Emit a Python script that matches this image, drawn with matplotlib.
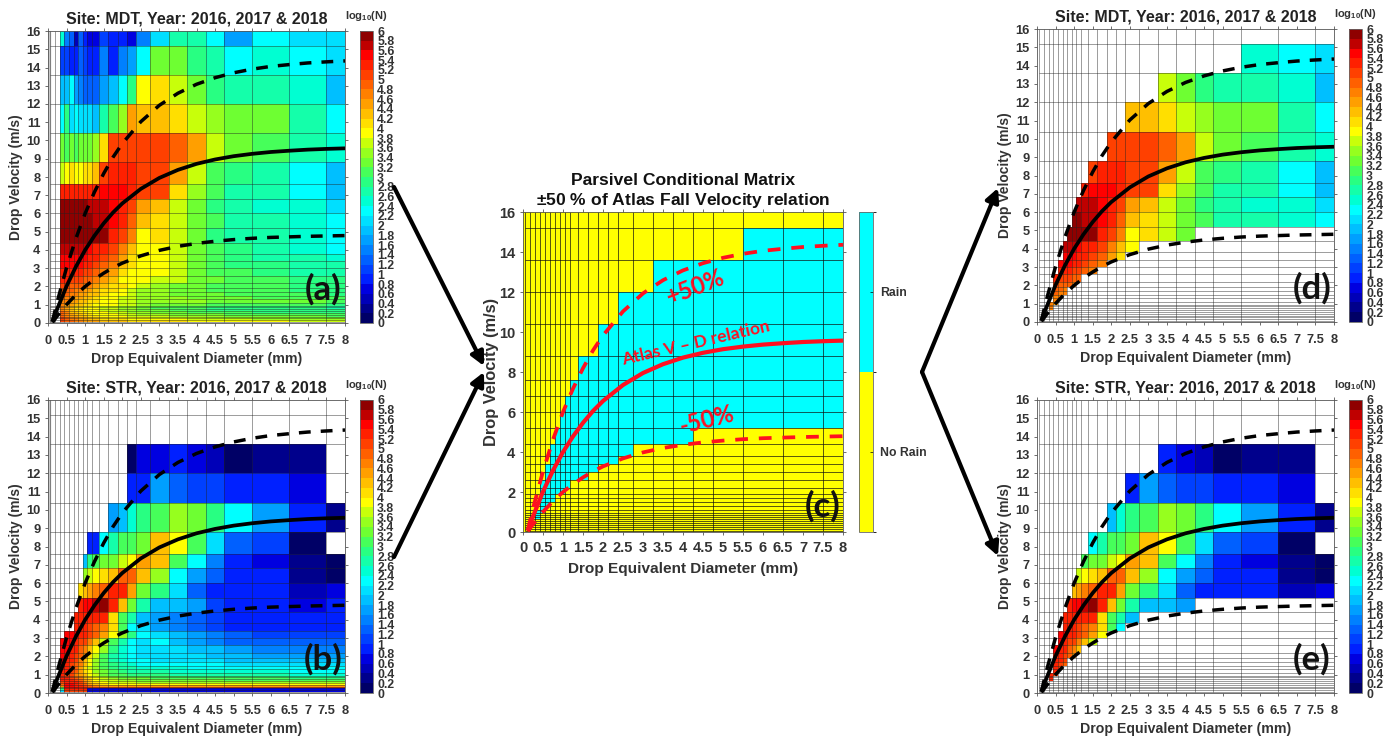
import numpy as np
import matplotlib
matplotlib.use("Agg")
import matplotlib.pyplot as plt
from matplotlib.colors import ListedColormap, BoundaryNorm
from matplotlib.cm import ScalarMappable

plt.rcParams['font.family'] = ['Liberation Sans', 'DejaVu Sans']
plt.rcParams['font.weight'] = 'bold'
plt.rcParams['axes.titleweight'] = 'bold'
plt.rcParams['axes.labelweight'] = 'bold'
plt.rcParams['mathtext.fontset'] = 'custom'
plt.rcParams['mathtext.bf'] = 'Liberation Sans:bold'
plt.rcParams['mathtext.rm'] = 'Liberation Sans:bold'

W, H = 1391, 736
n = np.nan

# Parsivel class centres, used as cell corners
x_edges = [0.062, 0.187, 0.312, 0.437, 0.562, 0.687, 0.812, 0.937, 1.062, 1.187, 1.375, 1.625,
           1.875, 2.125, 2.375, 2.75, 3.25, 3.75, 4.25, 4.75, 5.5, 6.5, 7.5, 8.5]
y_edges = [0.05, 0.15, 0.25, 0.35, 0.45, 0.55, 0.65, 0.75, 0.85, 0.95, 1.1, 1.3, 1.5, 1.7, 1.9,
           2.2, 2.6, 3.0, 3.4, 3.8, 4.4, 5.2, 6.0, 6.8, 7.6, 8.8, 10.4, 12.0, 13.6, 15.2, 17.6]

# log10(N), rows from the top of the plot down, columns from D=0.312 up
mdt_rows = [
    [2.5, 1.5, 1.3, 0.5, 1.3, 0.9, 0.7, 0.7, 1.1, 0.9, 0.9, 0.7, 1.5, 2.1, 2.7, 2.7, 2.3, 1.7, 2.3, 2.1, 2.1],
    [1.1, 1.1, 0.9, 0.9, 1.3, 1.1, 0.9, 0.9, 1.5, 0.9, 1.5, 1.7, 2.3, 3.3, 3.3, 2.9, 2.7, 2.3, 2.5, 2.3, 2.1],
    [1.9, 1.9, 2.3, 1.7, 1.5, 1.3, 1.3, 1.3, 1.7, 1.9, 2.3, 2.9, 3.9, 4.1, 3.7, 3.3, 2.9, 2.7, 2.7, 2.5, 1.9],
    [2.3, 2.9, 2.1, 2.3, 2.1, 2.1, 2.1, 1.9, 2.7, 3.1, 3.5, 4.5, 4.3, 4.3, 4.1, 3.7, 3.5, 3.3, 3.3, 2.7, 2.3],
    [3.3, 3.1, 3.3, 3.1, 3.3, 3.3, 3.3, 3.5, 4.1, 5.1, 5.1, 5.1, 5.1, 5.1, 4.9, 4.5, 3.7, 3.3, 3.1, 2.7, 2.5],
    [3.7, 3.9, 4.1, 3.9, 3.9, 4.1, 4.1, 4.3, 5.1, 5.3, 5.3, 5.3, 5.1, 5.1, 4.5, 3.7, 3.1, 2.9, 2.7, 2.3, 1.9],
    [5.3, 5.3, 5.3, 5.3, 5.3, 5.3, 5.3, 5.3, 5.5, 5.5, 5.5, 5.3, 5.1, 5.1, 4.1, 3.5, 3.1, 2.7, 2.7, 2.3, 1.9],
    [5.9, 5.9, 5.9, 5.9, 5.9, 5.9, 5.7, 5.7, 5.7, 5.5, 5.3, 5.1, 4.5, 4.3, 3.7, 3.3, 2.9, 2.7, 2.5, 2.5, 2.1],
    [5.9, 5.9, 5.9, 5.9, 5.9, 5.9, 5.9, 5.7, 5.7, 5.5, 5.3, 4.9, 4.3, 4.1, 3.7, 3.3, 3.1, 2.7, 2.7, 2.5, 2.3],
    [5.9, 5.9, 5.9, 5.9, 5.9, 5.9, 5.9, 5.9, 5.9, 5.3, 5.1, 4.7, 3.9, 4.1, 3.7, 3.3, 2.9, 2.7, 2.7, 2.5, 2.3],
    [5.7, 5.7, 5.7, 5.7, 5.7, 5.7, 5.5, 5.3, 5.3, 5.1, 4.7, 4.3, 3.9, 3.9, 3.7, 3.3, 3.1, 2.9, 2.7, 2.5, 2.3],
    [5.5, 5.5, 5.5, 5.5, 5.5, 5.5, 5.3, 5.3, 5.1, 4.9, 4.5, 4.1, 3.9, 3.9, 3.7, 3.3, 3.1, 2.9, 2.7, 2.7, 2.5],
    [5.5, 5.5, 5.5, 5.5, 5.5, 5.3, 5.3, 5.1, 4.9, 4.7, 4.3, 4.1, 3.9, 3.9, 3.7, 3.3, 3.1, 2.9, 2.9, 2.7, 2.7],
    [5.3, 5.3, 5.3, 5.3, 5.3, 5.1, 5.1, 4.9, 4.7, 4.5, 4.1, 3.9, 3.9, 3.9, 3.7, 3.3, 3.1, 3.1, 2.9, 2.7, 2.7],
    [5.3, 5.3, 5.1, 5.1, 5.1, 4.9, 4.9, 4.7, 4.5, 4.3, 3.9, 3.9, 3.9, 3.7, 3.7, 3.3, 3.3, 3.1, 3.1, 2.9, 2.9],
    [5.1, 5.1, 4.9, 4.9, 4.9, 4.7, 4.7, 4.5, 4.3, 4.1, 4.1, 3.9, 3.7, 3.5, 3.3, 3.3, 3.1, 3.1, 3.1, 2.9, 2.9],
    [4.9, 4.9, 4.9, 4.7, 4.7, 4.5, 4.5, 4.3, 4.1, 4.1, 3.9, 3.7, 3.5, 3.5, 3.3, 3.3, 3.1, 3.1, 3.1, 2.9, 2.9],
    [4.9, 4.9, 4.7, 4.7, 4.5, 4.5, 4.3, 4.3, 4.1, 3.9, 3.9, 3.7, 3.5, 3.5, 3.3, 3.3, 3.3, 3.1, 3.1, 3.1, 2.9],
    [4.9, 4.7, 4.7, 4.5, 4.5, 4.3, 4.3, 4.1, 3.9, 3.9, 3.7, 3.7, 3.5, 3.5, 3.5, 3.3, 3.3, 3.3, 3.1, 3.1, 3.1],
    [4.7, 4.7, 4.5, 4.5, 4.3, 4.3, 4.1, 4.1, 3.9, 3.9, 3.7, 3.7, 3.5, 3.5, 3.5, 3.5, 3.3, 3.3, 3.3, 3.3, 3.1],
    [4.7, 4.5, 4.5, 4.3, 4.3, 4.1, 4.1, 3.9, 3.9, 3.9, 3.7, 3.7, 3.5, 3.3, 3.3, 3.3, 3.1, 3.1, 3.1, 3.1, 2.9],
    [4.7, 4.5, 4.3, 4.1, 4.1, 4.1, 3.9, 3.9, 3.7, 3.7, 3.5, 3.5, 3.3, 3.3, 3.1, 3.1, 3.1, 2.9, 2.9, 2.9, 2.7],
    [4.7, 4.5, 4.3, 4.1, 4.1, 3.9, 3.9, 3.9, 3.7, 3.7, 3.5, 3.5, 3.3, 3.1, 3.1, 3.1, 2.9, 2.9, 2.9, 2.9, 2.7],
    [4.7, 4.5, 4.3, 4.1, 4.1, 3.9, 3.9, 3.9, 3.7, 3.7, 3.5, 3.5, 3.3, 3.3, 3.1, 3.1, 2.9, 2.9, 2.9, 2.9, 2.9],
    [4.9, 4.7, 4.3, 4.3, 4.1, 4.1, 3.9, 3.9, 3.9, 3.7, 3.7, 3.5, 3.5, 3.3, 3.3, 3.1, 3.1, 3.1, 2.9, 2.9, 2.9],
    [4.9, 4.7, 4.5, 4.3, 4.3, 4.1, 4.1, 3.9, 3.9, 3.9, 3.7, 3.7, 3.5, 3.5, 3.3, 3.3, 3.3, 3.1, 3.1, 3.1, 3.1],
    [4.9, 4.7, 4.5, 4.5, 4.3, 4.3, 4.1, 4.1, 3.9, 3.9, 3.9, 3.7, 3.7, 3.7, 3.5, 3.5, 3.5, 3.3, 3.3, 3.3, 3.1],
    [5.1, 4.9, 4.7, 4.5, 4.5, 4.3, 4.3, 4.1, 4.1, 3.9, 3.9, 3.9, 3.9, 3.7, 3.7, 3.7, 3.5, 3.5, 3.5, 3.3, 3.3],
    [5.1, 4.9, 4.7, 4.7, 4.5, 4.5, 4.3, 4.3, 4.1, 4.1, 4.1, 3.9, 3.9, 3.9, 3.9, 3.7, 3.7, 3.7, 3.5, 3.5, 3.5],
    [5.1, 4.9, 4.9, 4.7, 4.7, 4.5, 4.5, 4.5, 4.3, 4.3, 4.3, 4.1, 4.1, 4.1, 4.1, 3.9, 3.9, 3.9, 3.9, 3.7, 3.7],
]
str_rows = [
    [n] * 21,
    [n] * 21,
    [n] * 11 + [0.1, 0.7, 0.7, 0.9, 0.7, 0.5, 0.1, 0.3, 0.3, n],
    [n] * 11 + [0.9, 0.9, 1.7, 1.3, 1.1, 1.1, 0.9, 0.9, 0.7, n],
    [n] * 9 + [1.7, 1.9, 2.5, 2.9, 3.1, 3.5, 3.3, 2.9, 2.3, 1.7, 0.9, 0.3],
    [n] * 6 + [0.9, 0.9, 2.3, 2.7, 3.1, 3.1, 3.3, 4.3, 3.9, 3.1, 2.1, 1.3, 1.1, 0.1, n],
    [n] * 5 + [1.9, 2.9, 3.1, 3.3, 3.3, 3.7, 3.9, 4.5, 4.3, 3.1, 2.3, 1.5, 0.9, 0.7, 0.3, 0.1],
    [n] * 5 + [3.5, 3.7, 3.9, 4.1, 4.3, 4.9, 4.9, 4.3, 3.5, 2.3, 1.7, 1.3, 0.9, 0.9, 0.3, 0.1],
    [n] * 4 + [4.1, 4.3, 4.5, 4.7, 4.9, 5.3, 5.3, 4.5, 3.3, 2.9, 2.1, 1.3, 0.9, 0.9, 0.9, 0.5, 0.7],
    [n] * 4 + [5.3, 5.5, 5.5, 5.7, 5.9, 5.3, 4.3, 3.3, 2.7, 1.9, 1.9, 1.7, 1.1, 0.9, 0.9, 0.7, 0.9],
    [n] * 3 + [5.3, 5.3, 5.3, 5.3, 5.3, 5.3, 4.1, 3.1, 2.7, 1.9, 1.7, 1.5, 1.3, 1.1, 0.9, 0.9, 0.9, 0.9],
    [n] * 3 + [5.3, 5.3, 5.3, 5.1, 4.9, 4.7, 4.1, 3.1, 2.3, 2.1, 1.7, 1.5, 1.3, 1.1, 0.9, 0.9, 0.9, 0.9],
    [n] + [5.5, 5.5, 5.5, 5.3, 5.3, 5.1, 4.9, 4.5, 3.9, 3.5, 2.9, 2.3, 2.1, 1.9, 1.7, 1.5, 1.3, 1.1, 1.1, 1.1],
    [5.5, 5.5, 5.5, 5.3, 5.1, 5.1, 4.7, 4.3, 3.7, 3.1, 2.7, 2.3, 2.1, 2.3, 1.9, 1.7, 1.5, 1.3, 1.3, 1.3, 1.3],
    [5.5, 5.5, 5.3, 5.3, 4.9, 4.7, 4.3, 3.9, 3.5, 2.9, 2.5, 2.3, 2.1, 2.1, 2.1, 1.9, 1.9, 1.7, 1.5, 1.5, 1.5],
    [5.5, 5.3, 5.3, 5.1, 4.9, 4.5, 4.1, 3.7, 3.1, 2.7, 2.5, 2.3, 2.1, 2.1, 2.1, 2.1, 1.9, 1.9, 1.7, 1.7, 1.7],
    [5.5, 5.3, 5.3, 5.1, 4.7, 4.3, 3.9, 3.5, 3.1, 2.7, 2.5, 2.3, 2.3, 2.1, 2.1, 2.1, 2.1, 1.9, 1.9, 1.9, 1.9],
    [5.5, 5.3, 5.1, 4.9, 4.7, 4.3, 3.9, 3.5, 3.1, 2.9, 2.7, 2.5, 2.3, 2.3, 2.3, 2.3, 2.3, 2.1, 2.1, 2.1, 2.1],
    [5.5, 5.3, 5.1, 4.9, 4.5, 4.1, 3.7, 3.5, 3.1, 2.9, 2.7, 2.7, 2.5, 2.5, 2.5, 2.3, 2.3, 2.3, 2.3, 2.3, 2.3],
    [5.3, 5.3, 5.1, 4.9, 4.5, 4.1, 3.9, 3.5, 3.3, 3.1, 2.9, 2.7, 2.7, 2.7, 2.5, 2.5, 2.5, 2.5, 2.5, 2.3, 2.3],
    [5.3, 5.1, 5.1, 4.7, 4.5, 4.3, 3.9, 3.7, 3.3, 3.1, 3.1, 2.9, 2.9, 2.9, 2.7, 2.7, 2.7, 2.7, 2.7, 2.5, 2.5],
    [5.3, 5.1, 5.1, 4.7, 4.7, 4.3, 4.1, 3.7, 3.5, 3.3, 3.1, 3.1, 3.1, 3.1, 3.1, 2.9, 2.9, 2.9, 2.9, 2.7, 2.7],
    [5.3, 5.3, 5.1, 4.9, 4.7, 4.3, 4.1, 3.9, 3.7, 3.5, 3.3, 3.3, 3.3, 3.1, 3.1, 3.1, 3.1, 3.1, 3.1, 2.9, 2.9],
    [5.3, 5.3, 5.3, 5.1, 4.9, 4.5, 4.3, 3.9, 3.7, 3.7, 3.5, 3.5, 3.3, 3.3, 3.3, 3.3, 3.3, 3.1, 3.1, 3.1, 3.1],
    [5.1, 5.3, 5.3, 5.3, 5.1, 4.7, 4.3, 4.1, 3.9, 3.7, 3.7, 3.7, 3.5, 3.5, 3.5, 3.5, 3.5, 3.5, 3.5, 3.5, 3.5],
    [4.9, 5.5, 5.5, 5.3, 5.1, 4.9, 4.5, 4.3, 4.1, 3.9, 3.9, 3.9, 3.9, 3.9, 3.9, 3.9, 3.9, 3.9, 3.9, 3.9, 3.9],
    [4.7, 5.5, 5.5, 5.3, 5.3, 5.1, 4.9, 4.7, 4.5, 4.5, 4.5, 4.5, 4.5, 4.5, 4.5, 4.5, 4.5, 4.5, 4.5, 4.5, 4.5],
    [3.3, 5.5, 5.5, 5.5, 5.3, 5.3, 5.1, 5.1, 5.1, 5.1, 5.1, 5.1, 5.1, 5.1, 5.1, 5.1, 5.1, 5.1, 5.1, 5.1, 5.1],
    [2.9, 5.3, 5.3, 5.3, 5.3, 5.3, 0.7, 0.7, 0.7, 0.7, 0.7, 0.7, 0.7, 0.7, 0.7, 0.7, 0.7, 0.7, 0.7, 0.7, 0.7],
    [2.1, 5.1, 5.1, 5.1, 5.1, 5.1, 0.7, 0.7, 0.7, 0.7, 0.7, 0.7, 0.7, 0.7, 0.7, 0.7, 0.7, 0.7, 0.7, 0.7, 0.7],
]

# rain window of the conditional matrix, per column
rain_bottom = [0.65, 0.95, 1.3, 1.5, 1.9, 1.9, 2.2, 2.6, 2.6, 3.0, 3.4, 3.4, 3.8, 4.4, 4.4, 4.4, 5.2, 5.2, 5.2, 5.2, 5.2]
rain_top = [1.1, 2.6, 3.4, 4.4, 5.2, 6.0, 6.8, 7.6, 8.8, 8.8, 10.4, 10.4, 12.0, 12.0, 13.6, 13.6, 13.6, 13.6, 15.2, 15.2, 15.2]

# fall velocity curves
curve_d = [0.12, 0.25, 0.5, 0.75, 1, 1.25, 1.5, 1.75, 2, 2.5, 3, 3.5, 4, 4.5, 5, 5.5, 6, 6.5, 7, 7.5, 8]
atlas_v = [0.07, 0.78, 2.02, 3.08, 4.0, 4.78, 5.46, 6.05, 6.55, 7.35, 7.95, 8.39, 8.72, 8.96, 9.14, 9.27, 9.37, 9.44, 9.50, 9.54, 9.57]
upper_v = [0.1, 1.18, 3.03, 4.62, 6.0, 7.17, 8.19, 9.08, 9.83, 11.03, 11.93, 12.59, 13.08, 13.44, 13.71, 13.91, 14.06, 14.16, 14.25, 14.31, 14.36]
lower_v = [0.03, 0.39, 1.01, 1.54, 2.0, 2.39, 2.73, 3.03, 3.28, 3.68, 3.98, 4.2, 4.36, 4.48, 4.57, 4.64, 4.69, 4.72, 4.75, 4.77, 4.79]

levels = [round(0.2 * i, 1) for i in range(31)]
x_ticks = [0.5 * i for i in range(17)]

# colours of the green part of the bar, 2.4 to 3.8, as they look in the picture
green_band = [(0, 255, 210), (20, 255, 170), (40, 255, 130), (70, 255, 90),
              (110, 255, 50), (150, 255, 30), (200, 255, 10)]


def matlab_jet(m):
    # same rounding of the table as MATLAB's jet(m)
    k = int(np.ceil(m / 4))
    u = np.r_[np.arange(1, k + 1) / k, np.ones(k - 1), np.arange(k, 0, -1) / k]
    g = int(np.ceil(k / 2)) - (m % 4 == 1) + np.arange(1, len(u) + 1)
    r = g + k
    b = g - k
    g = g[g <= m]
    r = r[r <= m]
    b = b[b >= 1]
    J = np.zeros((m, 3))
    J[r - 1, 0] = u[:len(r)]
    J[g - 1, 1] = u[:len(g)]
    J[b - 1, 2] = u[-len(b):]
    # the ends of the bar in the picture run darker
    J[:4, 2] = [0.4, 0.55, 0.72, 0.88]
    J[-2:, 0] = [0.75, 0.56]
    J[12:19] = np.array(green_band) / 255
    return ListedColormap(J)


cmap = matlab_jet(30)
norm = BoundaryNorm(levels, 30)
tick_col = '#333333'


def rect(x0, y0, x1, y1):
    return [x0 / W, 1 - y1 / H, (x1 - x0) / W, (y1 - y0) / H]


fig = plt.figure(figsize=(W / 100, H / 100), dpi=100)


def style_axes(ax, yt, fs=9.3, xpad=6):
    ax.set_xlim(0, 8)
    ax.set_ylim(0, 16)
    ax.set_xticks(x_ticks)
    ax.set_xticklabels(['%g' % t for t in x_ticks])
    ax.set_yticks(yt)
    ax.tick_params(direction='out', length=2.5, width=0.6, color='#555555', labelsize=fs,
                   labelcolor=tick_col, pad=3, top=True, right=True)
    ax.tick_params(axis='x', pad=xpad)
    for s in ax.spines.values():
        s.set_color('#555555')
        s.set_linewidth(0.6)


def grid_lines(ax, col='#222222', alpha=0.45):
    ax.vlines(x_edges, 0.05, 16, color=col, lw=0.7, alpha=alpha, zorder=2)
    ax.hlines(y_edges, 0.062, 8, color=col, lw=0.7, alpha=alpha, zorder=2)


def curves(ax, col, lw, dash):
    ax.plot(curve_d, atlas_v, color=col, lw=lw, zorder=3, solid_capstyle='butt')
    ax.plot(curve_d, upper_v, color=col, lw=dash, ls=(0, (3.4, 2.9)), zorder=3)
    ax.plot(curve_d, lower_v, color=col, lw=dash, ls=(0, (3.4, 2.9)), zorder=3)


def panel(box, cbox, rows, title, tag, strip=False):
    ax = fig.add_axes(rect(*box))
    ax.pcolormesh(x_edges[2:], y_edges, np.array(rows, dtype=float)[::-1], cmap=cmap, norm=norm, zorder=1)
    grid_lines(ax)
    if strip:
        ax.axvspan(0, 0.062, color='#c8c8c8', zorder=1)
    curves(ax, 'k', 2.7, 2.5)
    style_axes(ax, list(range(17)))
    ax.set_title(title, fontsize=11.5, color='#222222', pad=5.5)
    ax.set_xlabel('Drop Equivalent Diameter (mm)', fontsize=10.2, color='#333333', labelpad=4)
    ax.set_ylabel('Drop Velocity (m/s)', fontsize=10, color='#333333', labelpad=2)
    ax.text(0.925, 0.115, tag, transform=ax.transAxes, fontsize=25, family='Lato', fontweight='bold',
            color='#111111', ha='center', va='center', zorder=5)
    cax = fig.add_axes(rect(*cbox))
    cb = fig.colorbar(ScalarMappable(norm=norm, cmap=cmap), cax=cax, ticks=levels, spacing='proportional')
    cb.ax.set_yticklabels(['%g' % v for v in levels])
    cb.ax.tick_params(length=0, labelsize=8.8, labelcolor=tick_col, pad=3)
    cb.outline.set_edgecolor('#666666')
    cb.outline.set_linewidth(0.6)
    cb.ax.minorticks_off()
    fig.text((cbox[0] + 6) / W, 1 - (cbox[1] - 15) / H, r'log$_{\mathbf{10}}$(N)', fontsize=8,
             color='#333333', ha='center', va='center')
    return ax


panel((48, 31, 345, 323), (360, 31, 373, 323), mdt_rows, 'Site: MDT, Year: 2016, 2017 & 2018', '(a)', strip=True)
panel((48, 400, 345, 693), (360, 400, 373, 693), str_rows, 'Site: STR, Year: 2016, 2017 & 2018', '(b)', strip=True)

# masked versions of (a) and (b), keep only the cells inside the rain window
yy = np.array(y_edges)
rain = np.zeros((30, 21))
for i in range(30):
    for j in range(21):
        if rain_bottom[j] <= yy[i] and yy[i + 1] <= rain_top[j]:
            rain[i, j] = 1
keep = rain[::-1] == 1
mdt_masked = np.where(keep, np.array(mdt_rows, dtype=float), np.nan)
str_masked = np.where(keep, np.array(str_rows, dtype=float), np.nan)
panel((1037, 29, 1334, 322), (1349, 29, 1362, 322), mdt_masked, 'Site: MDT, Year: 2016, 2017 & 2018', '(d)')
panel((1037, 400, 1334, 693), (1349, 400, 1362, 693), str_masked, 'Site: STR, Year: 2016, 2017 & 2018', '(e)')

# centre panel
ax = fig.add_axes(rect(523, 212, 843, 532))
two = ListedColormap(['#ffff00', '#00ffff'])
ax.set_facecolor('#ffff00')
ax.pcolormesh(x_edges[2:], y_edges, rain, cmap=two, vmin=0, vmax=1, zorder=1)
grid_lines(ax, col='#111111', alpha=0.7)
curves(ax, '#ff1020', 3.0, 2.7)
style_axes(ax, list(range(0, 17, 2)), fs=10.5, xpad=4)
ax.set_title('Parsivel Conditional Matrix\n$\\pm$50 % of Atlas Fall Velocity relation', fontsize=12.6,
             color='#111111', pad=5, linespacing=1.2)
ax.set_xlabel('Drop Equivalent Diameter (mm)', fontsize=11.1, color='#333333', labelpad=5)
ax.set_ylabel('Drop Velocity (m/s)', fontsize=11.8, color='#333333', labelpad=0)
for s, px, py, rot, fs in [('+50%', 695, 287, 21, 17), ('Atlas V \u2013 D relation', 696, 343, 13, 12.5), ('-50%', 707, 420, 14, 17)]:
    fig.text(px / W, 1 - py / H, s, color='#ff1020', fontsize=fs, rotation=rot, family='Lato',
             fontweight='bold', ha='center', va='center', zorder=6)
ax.text(0.935, 0.08, '(c)', transform=ax.transAxes, fontsize=25, family='Lato', fontweight='bold',
        color='#111111', ha='center', va='center', zorder=5)
cax = fig.add_axes(rect(859, 212, 873, 532))
cb = fig.colorbar(ScalarMappable(norm=BoundaryNorm([0, 0.5, 1], 2), cmap=two), cax=cax, ticks=[0.25, 0.75])
cb.ax.set_yticklabels(['No Rain', 'Rain'])
cb.ax.tick_params(length=2, width=0.5, direction='in', labelsize=8.8, labelcolor=tick_col, pad=5)
cb.outline.set_edgecolor('#666666')
cb.outline.set_linewidth(0.6)

# arrows between panels, in pixels of the figure
arrows = [((394, 187), (484, 366)), ((394, 557), (484, 372)), ((922, 372), (998, 188)), ((922, 372), (998, 556))]
for a, b in arrows:
    fig.add_artist(matplotlib.patches.FancyArrowPatch(
        (a[0] / W, 1 - a[1] / H), (b[0] / W, 1 - b[1] / H), transform=fig.transFigure,
        arrowstyle='-|>', mutation_scale=20, lw=3, color='k', shrinkA=0, shrinkB=0, zorder=8))

fig.savefig('out.png', dpi=100)
